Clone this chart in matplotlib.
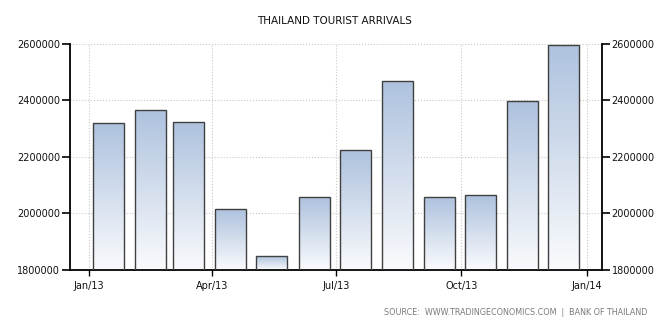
import datetime as dt

import matplotlib
matplotlib.use("Agg")
import matplotlib.dates as mdates
import matplotlib.pyplot as plt
import numpy as np
from matplotlib.colors import LinearSegmentedColormap

# monthly tourist arrivals, 2013 (bars sit mid-month)
months = [dt.date(2013, m, 15) for m in range(1, 13)]
arrivals = [2319000, 2366000, 2323000, 2015000, 1848000, 2057000,
            2224000, 2469000, 2057000, 2064000, 2398000, 2596000]
tick_dates = [dt.date(2013, 1, 1), dt.date(2013, 4, 1), dt.date(2013, 7, 1),
              dt.date(2013, 10, 1), dt.date(2014, 1, 1)]
tick_labels = ["Jan/13", "Apr/13", "Jul/13", "Oct/13", "Jan/14"]
y_ticks = [1800000, 2000000, 2200000, 2400000, 2600000]

plt.rcParams.update({"font.family": "DejaVu Sans", "font.size": 7})

fig = plt.figure(figsize=(6.69, 3.22), dpi=100)
ax = fig.add_axes([70 / 669, 52 / 322, 532 / 669, 226 / 322])

xs = mdates.date2num(months)
width = 22.7
bars = ax.bar(xs, [a - 1800000 for a in arrivals], bottom=1800000, width=width,
              facecolor="none", edgecolor="#404040", linewidth=1.0, zorder=3)

cmap = LinearSegmentedColormap.from_list("grad", ["#fafbfd", "#aec2de"])
grad = np.linspace(0, 1, 256).reshape(-1, 1)
for b in bars:
    x0, y0 = b.get_x(), b.get_y()
    im = ax.imshow(grad, extent=[x0, x0 + b.get_width(), y0, y0 + b.get_height()],
                   origin="lower", cmap=cmap, aspect="auto", zorder=2.5)
    im.set_clip_path(b)

ax.set_xlim(mdates.date2num(dt.date(2012, 12, 18)), mdates.date2num(dt.date(2014, 1, 12)))
ax.set_ylim(1800000, 2600000)
ax.set_xticks(mdates.date2num(tick_dates))
ax.set_xticklabels(tick_labels)
ax.set_yticks(y_ticks)
ax.set_yticklabels([str(v) for v in y_ticks])

ax.grid(True, color="#c8c8c8", linestyle=":", linewidth=0.8, zorder=0)
ax.set_axisbelow(True)
ax.spines["top"].set_visible(False)
for s in ["left", "right", "bottom"]:
    ax.spines[s].set_linewidth(1.3)
    ax.spines[s].set_color("black")

ax.tick_params(axis="y", which="both", left=True, right=True, labelleft=True,
               labelright=True, length=6, width=1.2, pad=1, direction="out",
               labelcolor="#111111")
ax.tick_params(axis="x", length=4, width=1.0, pad=4, direction="out",
               labelcolor="#111111")

fig.text(0.5, 0.935, "THAILAND TOURIST ARRIVALS", ha="center", va="center",
         fontsize=7.5, color="#111111")
fig.text(0.967, 0.028, "SOURCE:  WWW.TRADINGECONOMICS.COM  |  BANK OF THAILAND",
         ha="right", va="center", fontsize=5.8, color="#7a7a7a")

fig.savefig("out.png", dpi=100)
